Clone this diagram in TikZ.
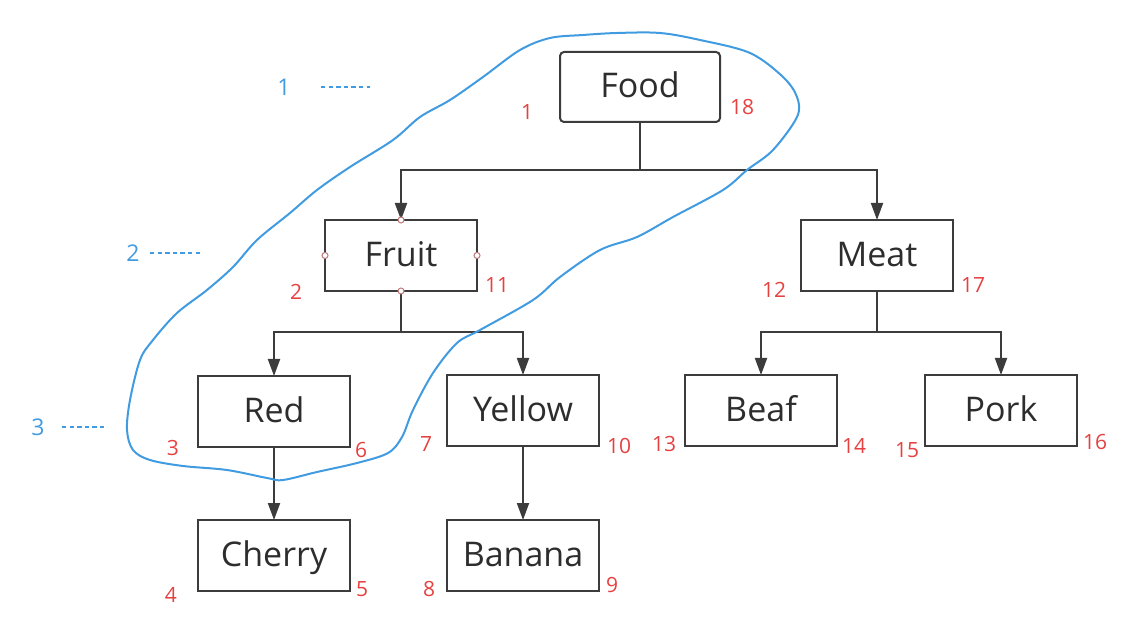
\documentclass[tikz,border=0pt]{standalone}
\usepackage{fontspec}
\setmainfont{Open Sans}
\usetikzlibrary{
  arrows.meta,
  positioning,
  calc
}
\definecolor{boxline}{RGB}{60,60,60}
\definecolor{boxtext}{RGB}{45,45,45}
\definecolor{visitred}{RGB}{230,65,65}
\definecolor{levelblue}{RGB}{65,155,225}
\definecolor{handlepink}{RGB}{190,120,120}
\tikzset{
  treebox/.style={
    draw=boxline, line width=1pt,
    minimum width=76pt, minimum height=35.5pt,
    inner sep=0pt, outer sep=0pt, text height=14pt, text depth=3pt,
    font=\fontsize{17}{20}\selectfont\color{boxtext}
  },
  rootbox/.style={
    treebox, minimum width=80pt, minimum height=35pt,
    rounded corners=2pt
  },
  treearrow/.style={
    -{Triangle[length=8.5pt,width=6pt]},
    draw=boxline, line width=1pt
  },
  handle/.style={
    circle, draw=handlepink, fill=white, line width=0.5pt,
    minimum size=3pt, inner sep=0pt
  },
  visitnum/.style={
    font=\fontsize{10.5}{12}\selectfont\color{visitred},
    inner sep=0pt
  },
  levelnum/.style={
    font=\fontsize{11.5}{13}\selectfont\color{levelblue},
    inner sep=0pt
  },
  leveldash/.style={
    draw=levelblue, line width=1pt,
    dash pattern=on 2.2pt off 1.6pt
  },
  loopline/.style={
    draw=levelblue, line width=1pt
  },
}

\begin{document}
\begin{tikzpicture}[x=0.5pt, y=-0.5pt]
  \useasboundingbox (0,0) rectangle (1128,624);

  %% Tree
  \node[rootbox] (food) at (640,87) {Food};
  \node[treebox, below=49pt of food, xshift=-119.5pt] (fruit) {Fruit};
  \node[treebox, below=49pt of food, xshift=118.5pt] (meat) {Meat};
  \node[treebox, below=42.5pt of fruit, xshift=-63.5pt] (red) {Red};
  \node[treebox, below=42pt of fruit, xshift=61pt] (yellow) {Yellow};
  \node[treebox, below=42pt of meat, xshift=-58pt] (beaf) {Beaf};
  \node[treebox, below=42pt of meat, xshift=62pt] (pork) {Pork};
  \node[treebox, below=36.5pt of red] (cherry) {Cherry};
  \node[treebox, below=37pt of yellow] (banana) {Banana};

  %% Edges
  \draw[treearrow] (food.south) -- ++(0,48) -| (fruit.north);
  \draw[treearrow] (food.south) -- ++(0,48) -| (meat.north);
  \draw[treearrow] (fruit.south) -- ++(0,41) -| (red.north);
  \draw[treearrow] (fruit.south) -- ++(0,41) -| (yellow.north);
  \draw[treearrow] (meat.south) -- ++(0,41) -| (beaf.north);
  \draw[treearrow] (meat.south) -- ++(0,41) -| (pork.north);
  \draw[treearrow] (red) -- (cherry);
  \draw[treearrow] (yellow) -- (banana);

  %% Selection handles on Fruit
  \foreach \side in {north,south,east,west}
    \node[handle] (fruit-\side) at (fruit.\side) {};

  %% Visit order
  \foreach \parent/\corner/\dx/\dy/\num in {
      food/south west/-33/-10/1, food/south east/22/-15/18,
      fruit/south west/-29/1/2, fruit/south east/20/-6/11,
      meat/south west/-27/-1/12, meat/south east/20/-6/17,
      red/south west/-25/1/3, red/south east/11/3/6,
      yellow/south west/-21/-2/7, yellow/south east/20/0/10,
      beaf/south west/-21/-2/13, beaf/south east/17/0/14,
      pork/south west/-18/4/15, pork/south east/18/-4/16,
      cherry/south west/-27/4/4, cherry/south east/12/-2/5,
      banana/south west/-18/-2/8, banana/south east/13/-6/9}
    \node[visitnum] (v\num) at ([shift={(\dx,\dy)}]\parent.\corner) {\num};

  %% Levels
  \node[levelnum] (lv1) at (284,87) {1};
  \node[levelnum] (lv2) at (133,253) {2};
  \node[levelnum] (lv3) at (38,427) {3};
  \draw[leveldash] ([xshift=15pt]lv1.east) -- ++(49,0);
  \draw[leveldash] ([xshift=5pt]lv2.east) -- ++(50,0);
  \draw[leveldash] ([xshift=8.5pt]lv3.east) -- ++(42,0);

  %% Hand-drawn loop
  \draw[loopline] plot[smooth cycle, tension=0.55] coordinates {
    (660,33) (700,40) (750,53) (783,77) (797,97) (797,117) (773,150)
    (747,170) (723,190) (673,217) (637,237) (600,250) (560,277)
    (533,300) (480,330) (457,343) (433,373) (413,410) (402,437)
    (388,453) (357,463) (317,472) (283,480) (267,478) (227,470)
    (183,466) (150,460) (133,450) (127,430) (130,400) (140,360)
    (153,340) (177,313) (207,290) (233,267) (257,240) (290,213)
    (317,190) (350,167) (393,140) (420,117) (450,100) (483,77)
    (520,50) (550,38) (583,35) (617,33)};

\end{tikzpicture}
\end{document}
